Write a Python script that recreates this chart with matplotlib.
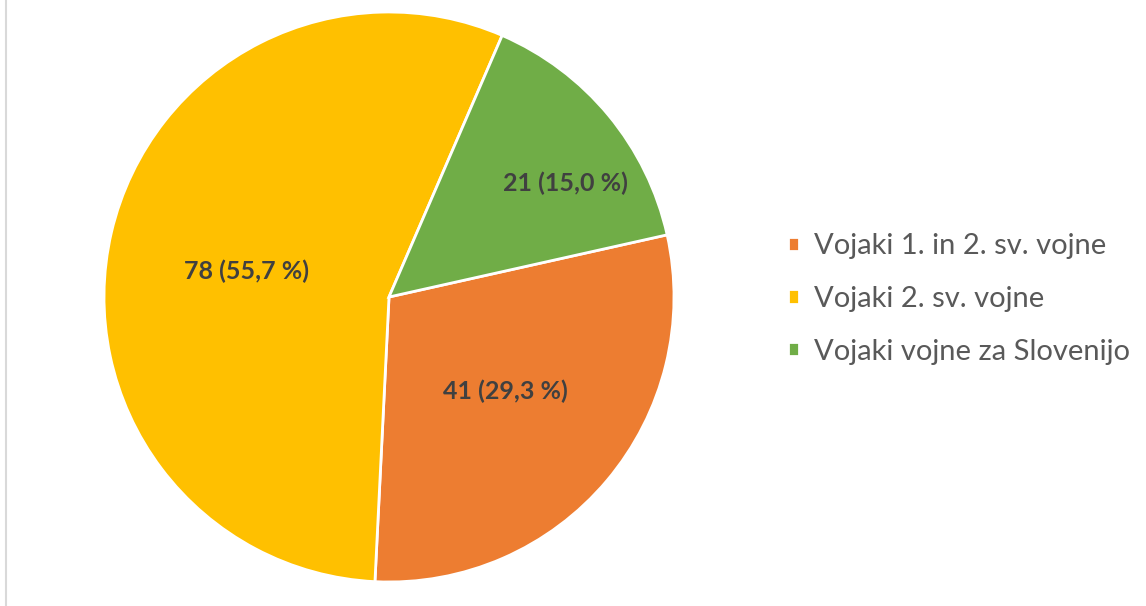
import matplotlib
matplotlib.use("Agg")
import matplotlib.pyplot as plt
from matplotlib.lines import Line2D

# data
labels = ["Vojaki 1. in 2. sv. vojne", "Vojaki 2. sv. vojne", "Vojaki vojne za Slovenijo"]
counts = [41, 78, 21]
percents = ["29,3", "55,7", "15,0"]
colors = ["#ED7D31", "#FFC000", "#70AD47"]

# label positions relative to pie radius (as placed in the original)
label_pos = [(0.41, -0.33), (-0.50, 0.09), (0.62, 0.40)]

plt.rcParams["font.family"] = ["Lato", "DejaVu Sans"]

fig = plt.figure(figsize=(11.46, 6.06), dpi=100)
ax = fig.add_axes([104 / 1146, 24 / 606, 570 / 1146, 570 / 606])

wedges, _ = ax.pie(counts, colors=colors, startangle=12.6, counterclock=False,
                   radius=1, wedgeprops=dict(edgecolor="white", linewidth=2))
ax.set_xlim(-1.0, 1.0)
ax.set_ylim(-1.0, 1.0)
ax.axis("off")

for n, p, (x, y) in zip(counts, percents, label_pos):
    ax.text(x, y, f"{n} ({p} %)", ha="center", va="center",
            fontsize=18, fontweight="bold", color="#404040")

fig.legend(wedges, labels, loc="center left",
           bbox_to_anchor=(762 / 1146, 1 - 299 / 606),
           frameon=False, fontsize=21, handlelength=0.37, handleheight=0.37,
           handletextpad=0.5, labelspacing=0.92, labelcolor="#595959")

# thin gray border at left edge
fig.add_artist(Line2D([6 / 1146, 6 / 1146], [0, 1], transform=fig.transFigure,
                      color="#d9d9d9", linewidth=1.5))

fig.savefig("out.png", dpi=100, facecolor="white")
